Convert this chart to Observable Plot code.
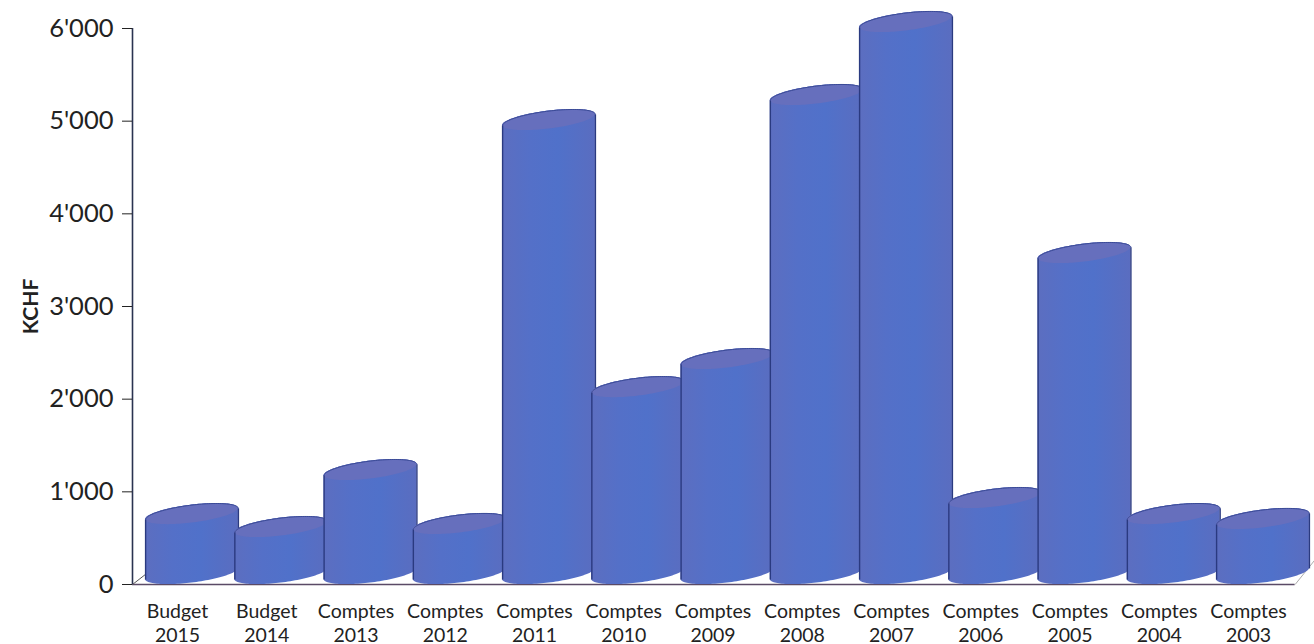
<!DOCTYPE html>
<html>
<head>
<meta charset="utf-8">
<script src="https://cdn.jsdelivr.net/npm/d3@7"></script>
<script src="https://cdn.jsdelivr.net/npm/@observablehq/plot@0.6"></script>
<style>
html,body{margin:0;padding:0;background:#fff;overflow:hidden}
svg{display:block}
</style>
</head>
<body>
<div id="chart"></div>
<script>
const kinds = ["Budget","Budget","Comptes","Comptes","Comptes","Comptes","Comptes","Comptes","Comptes","Comptes","Comptes","Comptes","Comptes"];
const years = [2015,2014,2013,2012,2011,2010,2009,2008,2007,2006,2005,2004,2003];
const values = [760,620,1235,653,5012,2130,2433,5282,6070,933,3577,760,707];
const yTicks = [0,1000,2000,3000,4000,5000,6000];

const halfW = 0.52, tilt = 60, depth = 97, floorLift = 113;
const us = d3.range(0, 61).map(k => Math.cos(Math.PI * (1 - k / 60)));
const rim = u => depth * Math.sqrt(Math.max(0, 1 - u * u));
const fmt = d3.formatLocale({decimal:".", thousands:"'", grouping:[3], currency:["",""]}).format(",");

const marks = [
  () => {
    const defs = d3.create("svg:defs");
    const g = defs.append("linearGradient").attr("id","body").attr("x1",0).attr("x2",1).attr("y1",0).attr("y2",0);
    [["0%","#5c6ec0"],["30%","#5470c8"],["60%","#5071ca"],["100%","#5a6dc0"]]
      .forEach(([o,c]) => g.append("stop").attr("offset",o).attr("stop-color",c));
    return defs.node();
  },
  Plot.ruleX([-0.6667], {y1:0, y2:6000, stroke:"#2a3350", strokeWidth:1.6}),
  Plot.ruleY([0], {x1:-0.6667, x2:12.36, stroke:"#5a4a66", strokeWidth:1.6}),
  Plot.link([0], {x1:-0.6667, y1:0, x2:-0.5, y2:125, stroke:"#555", strokeWidth:1}),
  Plot.link([0], {x1:12.36, y1:0, x2:12.577, y2:260, stroke:"#aaa", strokeWidth:1}),
  Plot.axisY({ticks:yTicks, tickFormat:fmt, tickSize:10, tickPadding:9, fontSize:25.5, stroke:"#222", color:"#222", label:null, anchor:"left"}),
  Plot.axisY({ticks:[], label:"KCHF", labelAnchor:"center", labelArrow:"none", labelOffset:109, anchor:"left", fontSize:21, fontWeight:700, color:"#222"}),
  Plot.axisX({ticks:d3.range(kinds.length), tickFormat:i => kinds[i] + "\n" + years[i], tickSize:0, tickPadding:17, dx:-14.5, fontSize:19.5, lineHeight:1.22, color:"#222", label:null, anchor:"bottom"})
];

values.forEach((v, i) => {
  const pts = us.map(u => ({
    x: i + u * halfW,
    base: floorLift + tilt * u - rim(u),
    topBack: v + tilt * u + rim(u),
    topFront: v + tilt * u - rim(u)
  }));
  marks.push(
    Plot.areaY(pts, {x:"x", y1:"base", y2:"topBack", fill:"url(#body)", curve:"linear"}),
    Plot.areaY(pts, {x:"x", y1:"topFront", y2:"topBack", fill:"#666fbd", curve:"linear"}),
    Plot.link([0], {x1:i - halfW, x2:i - halfW, y1:floorLift - tilt, y2:v - tilt, stroke:"#2a3a80", strokeWidth:1.4}),
    Plot.link([0], {x1:i + halfW, x2:i + halfW, y1:floorLift + tilt, y2:v + tilt, stroke:"#2a3a80", strokeWidth:1.4}),
    Plot.line(pts, {x:"x", y:"topBack", stroke:"#3a4a96", strokeWidth:1, curve:"linear"})
  );
});

const chart = Plot.plot({
  width:1314,
  height:644,
  marginTop:28,
  marginBottom:60,
  marginLeft:132,
  marginRight:0,
  style:{fontFamily:"Lato, sans-serif", background:"#fff", overflow:"visible"},
  x:{domain:[-0.6667,12.577], axis:null},
  y:{domain:[0,6000], axis:null},
  marks
});
document.getElementById("chart").append(chart);
</script>
</body>
</html>
